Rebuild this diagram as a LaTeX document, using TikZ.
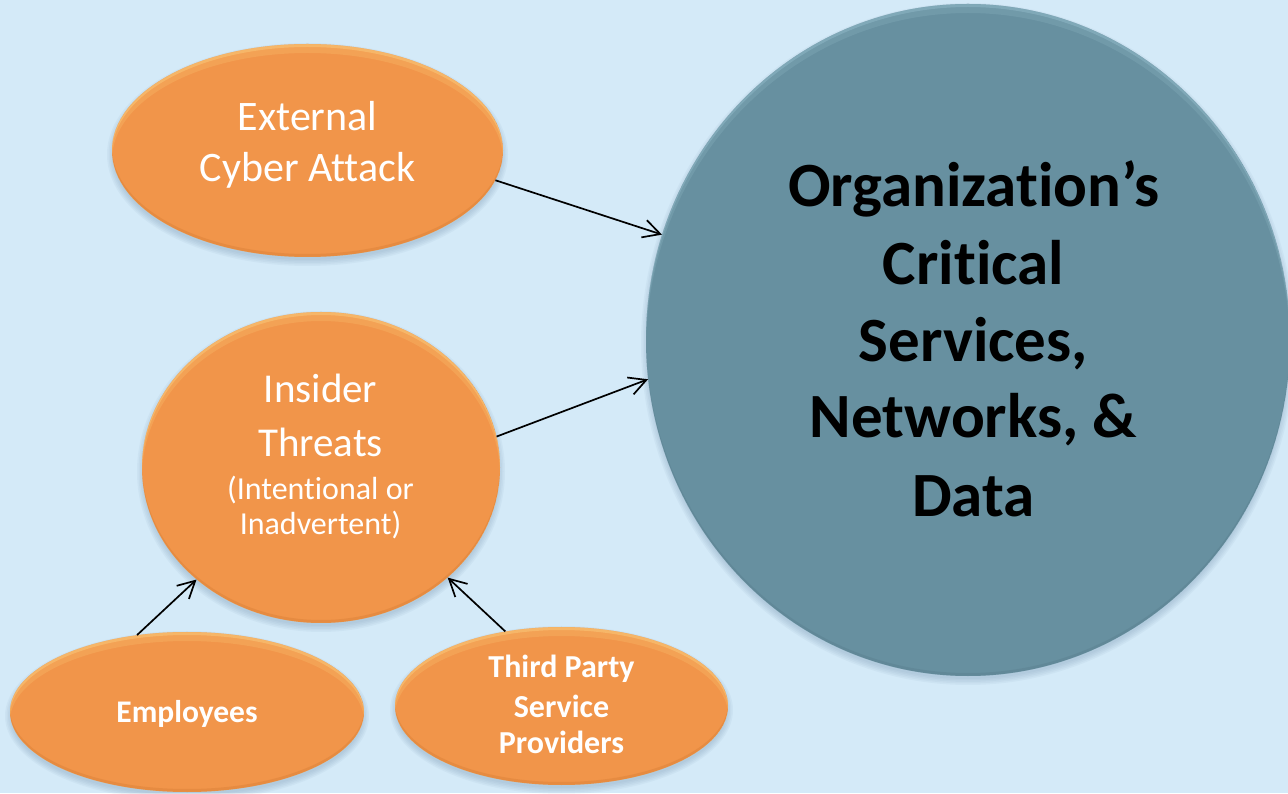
\documentclass[tikz,border=0pt]{standalone}
\usepackage{fontspec}
\setmainfont[Ligatures={NoCommon,NoContextual}, Contextuals=NoAlternate]{Carlito}
\usetikzlibrary{shapes.geometric,arrows.meta,calc}

\definecolor{bgblue}{RGB}{212,234,248}
\definecolor{blobfill}{RGB}{241,149,74}
\definecolor{blobrim}{RGB}{255,222,140}
\definecolor{blobdark}{RGB}{200,110,40}
\definecolor{corefill}{RGB}{103,144,160}
\definecolor{corerim}{RGB}{160,200,214}
\definecolor{coredark}{RGB}{80,115,130}
\definecolor{castshade}{RGB}{110,140,170}

% soft cast shadow under an ellipse: centre x, centre y, x radius, y radius
\newcommand\blobshadow[4]{%
  \foreach \k in {0,...,4}{%
    \fill[castshade, opacity=0.07]
      (#1,#2-4) ellipse [x radius={#3+\k*1.5-1}, y radius={#4+\k*1.5-1}];
  }%
}
% bevelled rim: centre x, centre y, x radius, y radius, light colour, dark colour
\newcommand\blobbevel[6]{%
  \begin{scope}
    \clip (#1,#2) ellipse [x radius=#3, y radius=#4];
    \fill[#5, opacity=0.35, even odd rule]
      (#1,#2) ellipse [x radius=#3, y radius=#4]
      (#1,#2-3) ellipse [x radius=#3, y radius=#4];
    \fill[#5, opacity=0.18, even odd rule]
      (#1,#2) ellipse [x radius=#3, y radius=#4]
      (#1,#2-9) ellipse [x radius=#3, y radius=#4];
    \fill[#6, opacity=0.25, even odd rule]
      (#1,#2) ellipse [x radius=#3, y radius=#4]
      (#1,#2+3) ellipse [x radius=#3, y radius=#4];
  \end{scope}%
}

\tikzset{
  blob/.style={ellipse, inner sep=0pt, fill=blobfill},
  core/.style={ellipse, inner sep=0pt, fill=corefill},
  whitetext/.style={anchor=base, inner sep=0pt, text=white},
  blacktext/.style={anchor=base, inner sep=0pt, text=black},
  link/.style={line width=1.7pt, draw=black,
    -{Straight Barb[length=17pt, width=18pt, line width=1.7pt]}},
}

\begin{document}
\begin{tikzpicture}[x=1pt, y=1pt]
  \fill[bgblue] (0,0) rectangle (1288,793);
  \useasboundingbox (0,0) rectangle (1288,793);
  \clip (0,0) rectangle (1288,793);

  % shadows
  \blobshadow{307.5}{642.5}{195.5}{106.5}
  \blobshadow{321}{325.5}{179}{155.5}
  \blobshadow{187}{81}{177}{80}
  \blobshadow{561.5}{87}{166.5}{79}
  \blobshadow{968}{453}{322}{336}

  % shapes
  \node[core, minimum width=644pt, minimum height=672pt] (org) at (968,453) {};
  \blobbevel{968}{453}{322}{336}{corerim}{coredark}

  \node[blob, minimum width=391pt, minimum height=213pt] (ext) at (307.5,642.5) {};
  \blobbevel{307.5}{642.5}{195.5}{106.5}{blobrim}{blobdark}

  \node[blob, minimum width=358pt, minimum height=311pt] (ins) at (321,325.5) {};
  \blobbevel{321}{325.5}{179}{155.5}{blobrim}{blobdark}

  \node[blob, minimum width=354pt, minimum height=160pt] (emp) at (187,81) {};
  \blobbevel{187}{81}{177}{80}{blobrim}{blobdark}

  \node[blob, minimum width=333pt, minimum height=158pt] (tpp) at (561.5,87) {};
  \blobbevel{561.5}{87}{166.5}{79}{blobrim}{blobdark}

  % labels
  \node[whitetext, font=\fontsize{42}{50}\selectfont] (extA) at (307.5,662) {External};
  \node[whitetext, font=\fontsize{42}{50}\selectfont] (extB) at (307.5,611) {Cyber Attack};

  \node[whitetext, font=\fontsize{41}{50}\selectfont] (insA) at (320.5,390) {Insider};
  \node[whitetext, font=\fontsize{41}{50}\selectfont] (insB) at (320.5,336) {Threats};
  \node[whitetext, font=\fontsize{32}{38}\selectfont] (insC) at (320.5,293) {(Intentional or};
  \node[whitetext, font=\fontsize{32}{38}\selectfont] (insD) at (320.5,258) {Inadvertent)};

  \node[whitetext, font=\fontsize{31.5}{38}\selectfont\bfseries] (empA) at (187,71) {Employees};

  \node[whitetext, font=\fontsize{32}{38}\selectfont\bfseries] (tppA) at (561.5,116) {Third Party};
  \node[whitetext, font=\fontsize{32}{38}\selectfont\bfseries] (tppB) at (561.5,76) {Service};
  \node[whitetext, font=\fontsize{32}{38}\selectfont\bfseries] (tppC) at (561.5,40) {Providers};

  \node[blacktext, font=\fontsize{63}{76}\selectfont\bfseries] (orgA) at (973.5,586) {Organization’s};
  \node[blacktext, font=\fontsize{63}{76}\selectfont\bfseries] (orgB) at (973.5,508) {Critical};
  \node[blacktext, font=\fontsize{63}{76}\selectfont\bfseries] (orgC) at (973.5,431) {Services,};
  \node[blacktext, font=\fontsize{63}{76}\selectfont\bfseries] (orgD) at (973.5,355) {Networks, \&};
  \node[blacktext, font=\fontsize{63}{76}\selectfont\bfseries] (orgE) at (973.5,276) {Data};

  % connectors
  \draw[link] (ext.-9) -- (org.161);
  \draw[link] (ins.10) -- (org.187);
  \draw[link] (emp.123) -- (ins.222);
  \draw[link] (tpp.127) -- (ins.-41.5);
\end{tikzpicture}
\end{document}
